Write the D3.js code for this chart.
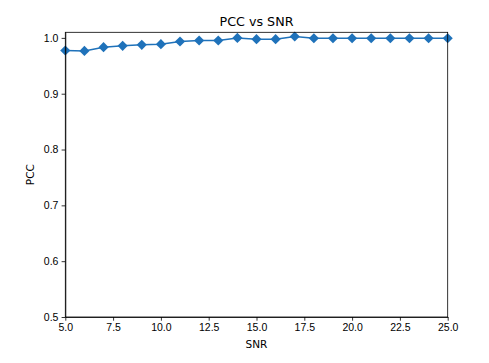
<!DOCTYPE html>
<html>
<head>
<meta charset="utf-8">
<script src="https://cdn.jsdelivr.net/npm/d3@7"></script>
<style>
    body { margin: 0; background: #fff; }
    svg { display: block; font-family: 'DejaVu Sans', sans-serif; }
    .axis path, .axis line { stroke: #000; stroke-width: 0.8; }
    .axis text { font-size: 10.5px; fill: #000; }
</style>
</head>
<body>
<div id="content"></div>
<script>
const SNR = [5, 6, 7, 8, 9, 10, 11, 12, 13, 14, 15, 16, 17, 18, 19, 20, 21, 22, 23, 24, 25];
const PCC = [0.9774, 0.9767, 0.9834, 0.9857, 0.9875, 0.9887, 0.9935, 0.9953, 0.9953, 1.0000, 0.9977,
             0.9977, 1.0025, 0.9993, 0.9993, 0.9993, 0.9993, 0.9993, 0.9993, 0.9993, 0.9993];
const X_TICKS = [5, 7.5, 10, 12.5, 15, 17.5, 20, 22.5, 25];
const Y_TICKS = [0.5, 0.6, 0.7, 0.8, 0.9, 1.0];

var totalWidth = 489;
var totalHeight = 363;
var margin = {left: 65.3, right: 41.3, top: 32.3, bottom: 46};
var width = totalWidth - margin.left - margin.right;
var height = totalHeight - margin.top - margin.bottom;

var color = '#1f72ba';

var svg = d3.select('#content')
.append('svg')
.attr('width', totalWidth)
.attr('height', totalHeight);

var g = svg.append('g')
.attr('transform', `translate(${margin.left}, ${margin.top})`);

var xScale = d3.scaleLinear().domain([5, 25]).range([0, width]);
var yScale = d3.scaleLinear().domain([0.5, 1.01]).range([height, 0]);

// line + diamond markers
var line = d3.line()
.x(function (d, i) {return xScale(SNR[i])})
.y(function (d) {return yScale(d)});

g.append('path')
.datum(PCC)
.attr('d', line)
.attr('fill', 'none')
.attr('stroke', color)
.attr('stroke-width', 1.5);

var diamond = d3.symbol().type(d3.symbolDiamond2).size(66);
g.selectAll('.marker')
.data(PCC)
.enter()
.append('path')
.attr('class', 'marker')
.attr('d', diamond)
.attr('fill', color)
.attr('transform', function (d, i) {return `translate(${xScale(SNR[i])}, ${yScale(d)})`});

// axes
var xAxis = d3.axisBottom(xScale)
.tickValues(X_TICKS)
.tickFormat(d3.format('.1f'))
.tickSizeInner(3.7)
.tickSizeOuter(0)
.tickPadding(3.2);

var yAxis = d3.axisLeft(yScale)
.tickValues(Y_TICKS)
.tickFormat(d3.format('.1f'))
.tickSizeInner(3.7)
.tickSizeOuter(0)
.tickPadding(3.2);

g.append('g')
.attr('class', 'axis x-axis')
.attr('transform', 'translate(0, ' + height + ')')
.call(xAxis);

g.append('g')
.attr('class', 'axis y-axis')
.call(yAxis);

// frame
g.append('rect')
.attr('width', width)
.attr('height', height)
.attr('fill', 'none')
.attr('stroke', '#000')
.attr('stroke-width', 0.8);

// labels
svg.append('text')
.attr('x', margin.left + width / 2)
.attr('y', 26)
.attr('text-anchor', 'middle')
.attr('font-size', '12.7px')
.text('PCC vs SNR');

svg.append('text')
.attr('x', margin.left + width / 2)
.attr('y', 347.5)
.attr('text-anchor', 'middle')
.attr('font-size', '10.5px')
.text('SNR');

svg.append('text')
.attr('transform', `translate(34, ${margin.top + height / 2}) rotate(-90)`)
.attr('text-anchor', 'middle')
.attr('font-size', '10.5px')
.text('PCC');
</script>
</body>
</html>
